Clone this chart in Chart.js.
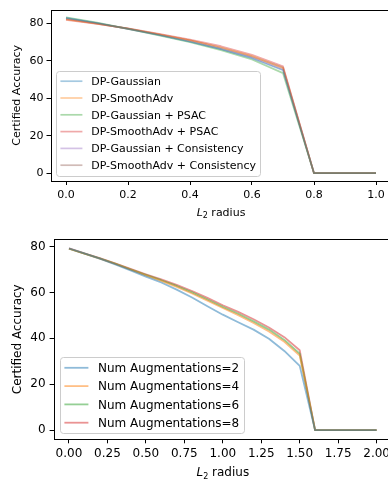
<!DOCTYPE html>
<html>
<head>
<meta charset="utf-8">
<script src="https://cdn.jsdelivr.net/npm/chart.js@4.4.0/dist/chart.umd.min.js"></script>
<style>
  html, body { margin: 0; padding: 0; background: #fff; overflow: hidden; }
  body { width: 388px; height: 485px; position: relative; }
  canvas { position: absolute; left: 0; }
</style>
</head>
<body>
<canvas id="topChart" width="400" height="228" style="top:0px"></canvas>
<canvas id="bottomChart" width="400" height="257" style="top:228px"></canvas>
<script>
// ---- top panel: certified accuracy vs L2 radius ----
const radiusTop = [0.0, 0.1, 0.2, 0.3, 0.4, 0.5, 0.6, 0.7, 0.8, 0.9, 1.0];
const labelsTop = ["DP-Gaussian", "DP-SmoothAdv", "DP-Gaussian + PSAC", "DP-SmoothAdv + PSAC",
  "DP-Gaussian + Consistency", "DP-SmoothAdv + Consistency"];
const dpGaussian      = [83.0, 80.3, 77.2, 73.9, 70.3, 66.3, 61.5, 55.0, 0, 0, 0];
const dpSmoothAdv     = [82.2, 79.9, 77.3, 74.3, 71.0, 67.2, 62.6, 56.2, 0, 0, 0];
const dpGaussianPsac  = [83.3, 80.5, 77.2, 73.7, 70.0, 65.8, 60.8, 53.5, 0, 0, 0];
const dpSmoothAdvPsac = [82.0, 79.8, 77.4, 74.5, 71.4, 67.9, 63.3, 57.2, 0, 0, 0];
const dpGaussianCons  = [82.8, 80.2, 77.2, 73.9, 70.4, 66.4, 61.8, 55.5, 0, 0, 0];
const dpSmoothAdvCons = [82.5, 80.0, 77.3, 74.2, 71.0, 67.0, 62.4, 56.5, 0, 0, 0];
const xTicksTop = [0, 0.2, 0.4, 0.6, 0.8, 1.0];

// ---- bottom panel: number of augmentations ----
const radiusBottom = [0.0, 0.1, 0.2, 0.3, 0.4, 0.5, 0.6, 0.7, 0.8, 0.9, 1.0,
  1.1, 1.2, 1.3, 1.4, 1.5, 1.6, 1.7, 1.8, 1.9, 2.0];
const labelsBottom = ["Num Augmentations=2", "Num Augmentations=4", "Num Augmentations=6", "Num Augmentations=8"];
const aug2 = [79.2, 77.0, 74.7, 72.2, 69.6, 66.9, 64.3, 61.2, 57.8, 54.0, 50.3, 47.0, 43.8, 39.8, 34.5, 28.0, 0, 0, 0, 0, 0];
const aug4 = [79.1, 76.9, 74.7, 72.4, 69.9, 67.4, 65.0, 62.4, 59.5, 56.4, 53.2, 50.1, 46.7, 43.0, 38.5, 32.5, 0, 0, 0, 0, 0];
const aug6 = [79.0, 76.9, 74.8, 72.5, 70.0, 67.6, 65.3, 62.8, 60.0, 56.9, 53.7, 50.7, 47.4, 43.8, 39.3, 33.3, 0, 0, 0, 0, 0];
const aug8 = [79.2, 77.0, 74.9, 72.6, 70.2, 67.9, 65.7, 63.3, 60.6, 57.6, 54.4, 51.5, 48.3, 44.7, 40.5, 34.8, 0, 0, 0, 0, 0];
const xTicksBottom = [0, 0.25, 0.5, 0.75, 1.0, 1.25, 1.5, 1.75, 2.0];

const yTicks = [0, 20, 40, 60, 80];
const tab10 = ["31,119,180", "255,127,14", "44,160,44", "214,39,40", "148,103,189", "140,86,75"];
const FONT = '"DejaVu Sans", sans-serif';

// draws the box, the legend and the axis titles (matplotlib look)
const extras = {
  id: 'extras',
  afterDraw(chart) {
    const o = chart.options.plugins.extras;
    const ctx = chart.ctx, a = chart.chartArea, fs = o.fontSize;
    ctx.save();

    // legend (lower left, inside axes)
    const sets = chart.data.datasets;
    ctx.font = fs + 'px ' + FONT;
    const textW = Math.max(...sets.map(d => ctx.measureText(d.label).width));
    const pad = 0.4 * fs, rowH = o.rowH, first = o.firstRow;
    const boxH = 2 * first + (sets.length - 1) * rowH;
    const boxL = a.left + 0.5 * fs, boxB = a.bottom - 0.5 * fs, boxT = boxB - boxH;
    const handleL = boxL + pad, textL = handleL + 2.8 * fs;
    const boxR = textL + textW + pad;
    ctx.beginPath();
    ctx.roundRect(Math.round(boxL) + 0.5, Math.round(boxT) + 0.5, Math.round(boxR - boxL), Math.round(boxH), 3);
    ctx.fillStyle = 'rgba(255,255,255,0.8)';
    ctx.fill();
    ctx.strokeStyle = '#cccccc';
    ctx.lineWidth = 1;
    ctx.stroke();
    ctx.textAlign = 'left';
    ctx.textBaseline = 'middle';
    sets.forEach((d, i) => {
      const y = boxT + first + i * rowH;
      ctx.beginPath();
      ctx.moveTo(handleL, y);
      ctx.lineTo(handleL + 2 * fs, y);
      ctx.strokeStyle = d.borderColor;
      ctx.lineWidth = d.borderWidth;
      ctx.stroke();
      ctx.fillStyle = '#000';
      ctx.fillText(d.label, textL, y + 1);
    });

    // frame
    ctx.strokeStyle = '#000';
    ctx.lineWidth = 1;
    ctx.strokeRect(Math.round(a.left) + 0.5, Math.round(a.top) + 0.5,
      Math.round(a.right - a.left), Math.round(a.bottom - a.top));

    // y title
    ctx.fillStyle = '#000';
    ctx.save();
    ctx.translate(o.yTitleX, (a.top + a.bottom) / 2);
    ctx.rotate(-Math.PI / 2);
    ctx.textAlign = 'center';
    ctx.textBaseline = 'middle';
    ctx.font = fs + 'px ' + FONT;
    ctx.fillText('Certified Accuracy', 0, 0);
    ctx.restore();

    // x title: italic L, subscript 2, " radius"
    const fItal = 'italic ' + fs + 'px ' + FONT;
    const fSub = Math.round(fs * 0.7) + 'px ' + FONT;
    const fReg = fs + 'px ' + FONT;
    ctx.font = fItal; const wL = ctx.measureText('L').width;
    ctx.font = fSub; const w2 = ctx.measureText('2').width;
    ctx.font = fReg; const wR = ctx.measureText(' radius').width;
    let x = (a.left + a.right) / 2 - (wL + w2 + wR) / 2;
    const yb = o.xTitleBase;
    ctx.textAlign = 'left';
    ctx.textBaseline = 'alphabetic';
    ctx.font = fItal; ctx.fillText('L', x, yb); x += wL;
    ctx.font = fSub; ctx.fillText('2', x, yb + 0.25 * fs); x += w2;
    ctx.font = fReg; ctx.fillText(' radius', x, yb);
    ctx.restore();
  }
};

function makeChart(id, xs, seriesValues, labels, cfg) {
  const datasets = seriesValues.map((vals, i) => ({
    label: labels[i],
    data: xs.map((x, j) => ({ x: x, y: vals[j] })),
    borderColor: 'rgba(' + tab10[i] + ',' + cfg.alpha + ')',
    backgroundColor: 'rgba(' + tab10[i] + ',' + cfg.alpha + ')',
    borderWidth: cfg.lineWidth,
    pointRadius: 0,
    tension: 0,
    fill: false,
    borderJoinStyle: 'round'
  }));
  const canvas = document.getElementById(id);
  const tickFont = { family: FONT, size: cfg.fontSize };
  return new Chart(canvas.getContext('2d'), {
    type: 'line',
    data: { datasets: datasets },
    options: {
      responsive: false,
      animation: false,
      events: [],
      layout: { padding: { left: 0, top: cfg.top, right: canvas.width - cfg.right, bottom: 0 } },
      plugins: {
        legend: { display: false },
        tooltip: { enabled: false },
        extras: { fontSize: cfg.fontSize, rowH: cfg.rowH, firstRow: cfg.firstRow,
          yTitleX: cfg.yTitleX, xTitleBase: cfg.xTitleBase }
      },
      scales: {
        x: {
          type: 'linear', min: cfg.xMin, max: cfg.xMax,
          afterBuildTicks: s => { s.ticks = cfg.xTicks.map(v => ({ value: v })); },
          afterFit: s => { s.height = canvas.height - cfg.bottom; },
          ticks: { callback: v => v.toFixed(cfg.xDec), color: '#000', font: tickFont,
            padding: cfg.xPad, maxRotation: 0, autoSkip: false },
          grid: { display: true, drawOnChartArea: false, drawTicks: true, tickLength: cfg.tickLen,
            color: '#000', lineWidth: 1 },
          border: { display: false }
        },
        y: {
          type: 'linear', min: cfg.yMin, max: cfg.yMax,
          afterBuildTicks: s => { s.ticks = yTicks.map(v => ({ value: v })); },
          afterFit: s => { s.width = cfg.left; },
          ticks: { callback: v => String(v), color: '#000', font: tickFont, padding: cfg.yPad, autoSkip: false },
          grid: { display: true, drawOnChartArea: false, drawTicks: true, tickLength: cfg.tickLen,
            color: '#000', lineWidth: 1 },
          border: { display: false }
        }
      }
    },
    plugins: [extras]
  });
}

makeChart('topChart', radiusTop,
  [dpGaussian, dpSmoothAdv, dpGaussianPsac, dpSmoothAdvPsac, dpGaussianCons, dpSmoothAdvCons], labelsTop, {
  alpha: 0.4, lineWidth: 1.7, fontSize: 11, rowH: 16.8, firstRow: 10.3,
  left: 50.5, right: 391.5, top: 1.5, bottom: 181,
  xMin: -0.05, xMax: 1.05, yMin: -4.17, yMax: 87.47, xTicks: xTicksTop, xDec: 1,
  tickLen: 4, xPad: 4, yPad: 3, yTitleX: 17.5, xTitleBase: 215.5
});

makeChart('bottomChart', radiusBottom, [aug2, aug4, aug6, aug8], labelsBottom, {
  alpha: 0.5, lineWidth: 1.8, fontSize: 12, rowH: 18.3, firstRow: 10.6,
  left: 53.6, right: 392, top: 9.3, bottom: 211.3,
  xMin: -0.1, xMax: 2.1, yMin: -3.96, yMax: 83.16, xTicks: xTicksBottom, xDec: 2,
  tickLen: 4, xPad: 3.5, yPad: 4, yTitleX: 17.5, xTitleBase: 248
});
</script>
</body>
</html>
